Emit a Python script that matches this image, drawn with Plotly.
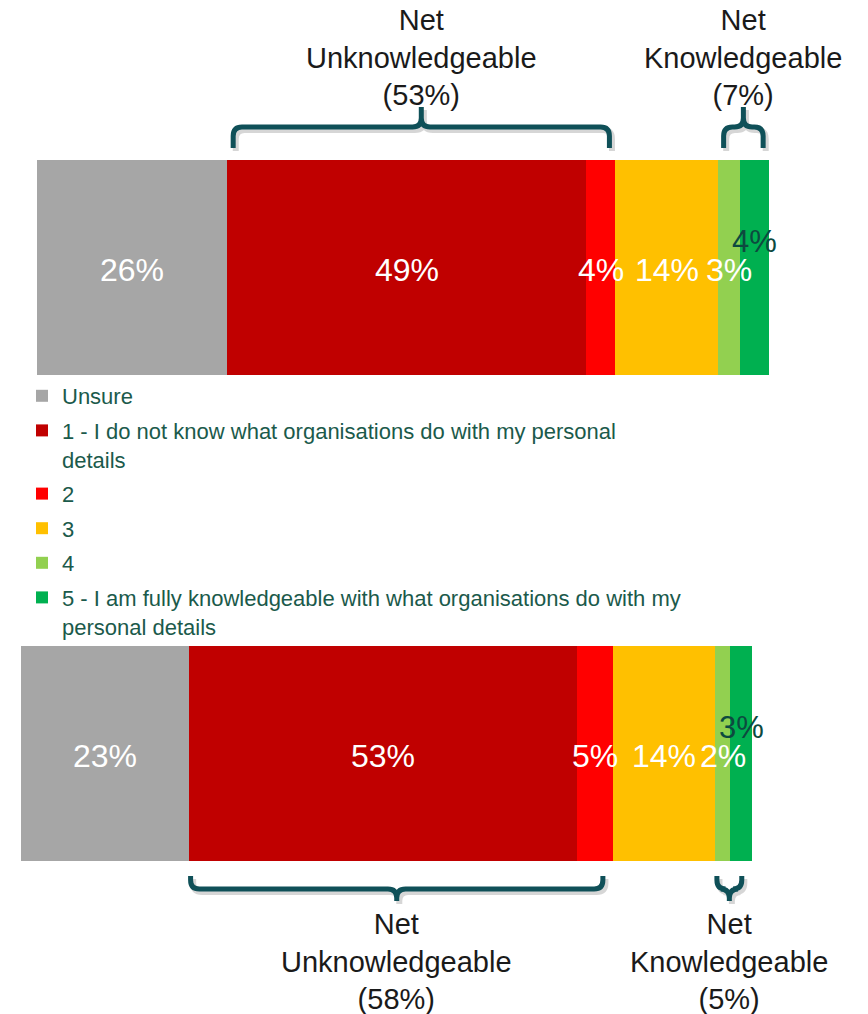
import plotly.graph_objects as go

# ---------------- data ----------------
categories = [
    "Unsure",
    "1 - I do not know what organisations do with my personal<br>details",
    "2",
    "3",
    "4",
    "5 - I am fully knowledgeable with what organisations do with my<br>personal details",
]
top_values = [26, 49, 4, 14, 3, 4]
bottom_values = [23, 53, 5, 14, 2, 3]
colors = ["#A6A6A6", "#C00000", "#FF0000", "#FFC000", "#92D050", "#00B050"]

unknow_idx = [1, 2]   # categories making up "Net Unknowledgeable"
know_idx = [4, 5]     # categories making up "Net Knowledgeable"

FONT = "Liberation Sans, Arial, sans-serif"
W, H = 868, 1014
LEGEND_COLOR = "#1B5A4B"
BRACE_COLOR = "#0F5058"


def py(px):
    """pixel row -> paper y"""
    return 1 - px / H


fig = go.Figure()

bars = [("x", "y", top_values, True), ("x2", "y2", bottom_values, False)]
for xa, ya, vals, show in bars:
    for i, (cat, v, c) in enumerate(zip(categories, vals, colors)):
        fig.add_trace(go.Bar(
            x=[v], y=[0], orientation="h", width=1,
            name=cat, marker=dict(color=c, line=dict(width=0)),
            hoverinfo="skip",
            xaxis=xa, yaxis=ya, showlegend=show,
            legendgroup=f"g{i}",
        ))

annotations = []
shapes = []


def cum(vals):
    out, s = [], 0
    for v in vals:
        out.append(s)
        s += v
    return out


def brace(x0, x1, yE, yL, yT):
    rx, ry = 1.2, 9 / H
    d = 1 if yE < yL else -1
    xm = (x0 + x1) / 2
    return (f"M {x0},{yE} L {x0},{yL - d*ry} Q {x0},{yL} {x0 + rx},{yL} "
            f"L {xm - rx},{yL} Q {xm},{yL} {xm},{yL + d*ry} L {xm},{yT} "
            f"M {xm},{yL + d*ry} Q {xm},{yL} {xm + rx},{yL} "
            f"L {x1 - rx},{yL} Q {x1},{yL} {x1},{yL - d*ry} L {x1},{yE}")


def add_brace(xref, x0, x1, yE, yL, yT, shift=0.0):
    inset = 0.8
    a, b = x0 + inset + shift, x1 - inset + shift
    shapes.append(dict(type="path", xref=xref, yref="paper",
                       path=brace(a + 0.35, b + 0.35, yE - 3 / H, yL - 3 / H, yT - 3 / H),
                       line=dict(color="rgba(0,0,0,0.16)", width=6), layer="below"))
    shapes.append(dict(type="path", xref=xref, yref="paper",
                       path=brace(a, b, yE, yL, yT),
                       line=dict(color=BRACE_COLOR, width=5)))
    return (a + b) / 2


for xa, ya, vals, top in bars:
    starts = cum(vals)
    for i, v in enumerate(vals):
        last = i == len(vals) - 1
        annotations.append(dict(
            xref=xa, yref=ya, x=starts[i] + v / 2, y=0,
            yshift=26 if last else -2,
            text=f"{v}%", showarrow=False,
            font=dict(color="#0D4A3F" if last else "white",
                      size=31 if last else 32, family=FONT)))

    groups = [(unknow_idx, "Net<br>Unknowledgeable"), (know_idx, "Net<br>Knowledgeable")]
    for idx, label in groups:
        x0 = starts[idx[0]]
        x1 = starts[idx[-1]] + vals[idx[-1]]
        net = sum(vals[i] for i in idx)
        if top:
            xm = add_brace(xa, x0, x1, py(148), py(127), py(107))
            ytxt = py(2)
        else:
            xm = add_brace(xa, x0, x1, py(876), py(889), py(901), shift=-0.6)
            ytxt = py(906)
        annotations.append(dict(
            xref=xa, yref="paper", x=xm, y=ytxt, yanchor="top",
            text=f"{label}<br>({net}%)", showarrow=False,
            font=dict(color="#1A1A1A", size=29, family=FONT)))

hidden = dict(visible=False, showgrid=False, zeroline=False, fixedrange=True)
fig.update_layout(
    width=W, height=H,
    margin=dict(l=0, r=0, t=0, b=0),
    paper_bgcolor="white", plot_bgcolor="white",
    barmode="stack",
    xaxis=dict(domain=[37 / W, 769 / W], range=[0, 100], **hidden),
    yaxis=dict(domain=[py(375), py(160)], range=[-0.5, 0.5], **hidden),
    xaxis2=dict(domain=[21 / W, 752 / W], range=[0, 100], anchor="y2", **hidden),
    yaxis2=dict(domain=[py(861), py(646)], range=[-0.5, 0.5], anchor="x2", **hidden),
    showlegend=True,
    legend=dict(
        x=22 / W, xanchor="left", y=py(375), yanchor="top",
        orientation="v", traceorder="grouped", tracegroupgap=3,
        valign="top", itemclick=False, itemdoubleclick=False,
        font=dict(color=LEGEND_COLOR, size=22, family=FONT),
        bgcolor="rgba(0,0,0,0)",
    ),
    annotations=annotations,
    shapes=shapes,
)

fig.write_html("out.html", config={"displayModeBar": False},
               post_script="document.body.style.margin='0';")
